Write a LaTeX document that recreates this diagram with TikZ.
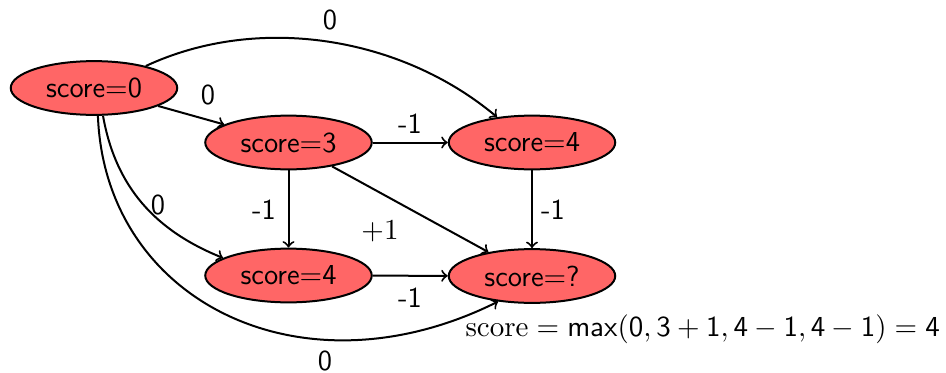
\RequirePackage{fix-cm}
\documentclass[tikz,border=0pt]{standalone}
\usetikzlibrary{shapes.geometric}
\begin{document}
\begin{tikzpicture}[x=0.4pt,y=-0.4pt,
  every node/.style={font=\sffamily\fontsize{11.6}{13}\selectfont},
  st/.style={ellipse,draw,thick,fill=red!60,minimum width=66.6pt,minimum height=21.5pt,inner sep=0pt},
  conn/.style={->,thick},
  lab/.style={inner sep=0pt}]
\useasboundingbox (0,0) rectangle (946,373);
\node[st] (s0) at (94,88) {score$=$0};
\node[st] (s3) at (288.5,142.5) {score$=$3};
\node[st] (s4t) at (532,142.5) {score$=$4};
\node[st] (s4b) at (288.5,275.5) {score$=$4};
\node[st] (sq) at (532,276) {score$=$?};
\draw[conn] (s0.23) to[out=25,in=140,looseness=0.9] (s4t.144);
\draw[conn] (s0) -- (s3);
\draw[conn] (s3) -- (s4t);
\draw[conn] (s3) -- (s4b);
\draw[conn] (s3) -- (sq);
\draw[conn] (s4t) -- (sq);
\draw[conn] (s4b) -- (sq);
\draw[conn] (s0.-72) to[out=-80,in=158] (s4b.165);
\draw[conn] (s0.-82) .. controls +(7,185) and +(-197,98) .. (sq.-143);
\node[lab] (l1) at (330,20) {0};
\node[lab] (l2) at (208,95) {0};
\node[lab] (l3) at (410,124) {-1};
\node[lab] (l4) at (264,210) {-1};
\node[lab] (l5) at (380,231) {$+1$};
\node[lab] (l6) at (553,210) {-1};
\node[lab] (l7) at (410,298) {-1};
\node[lab] (l8) at (158,205) {0};
\node[lab] (l9) at (325,361) {0};
\node[anchor=base west,inner sep=0pt] (eq) at (465,336) {$\mathrm{score}=\mathsf{max(0,3+1,4-1,4-1)}=\mathsf{4}$};
\end{tikzpicture}
\end{document}
